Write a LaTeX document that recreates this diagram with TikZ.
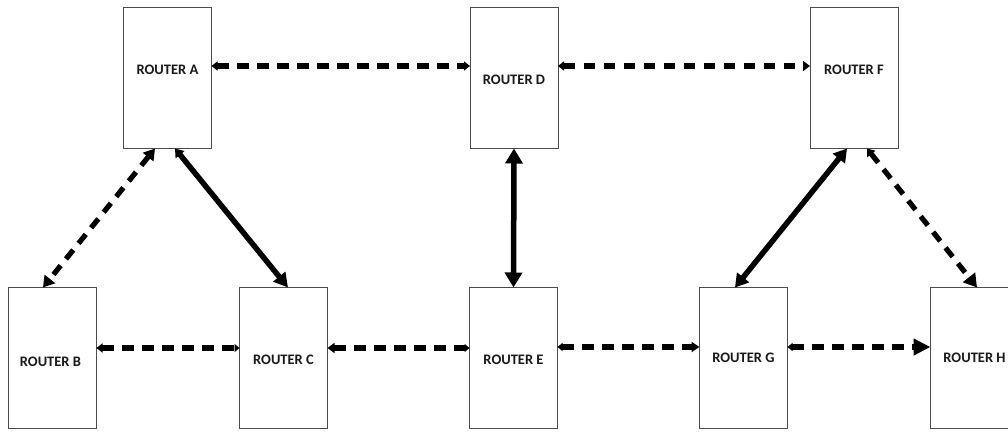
\documentclass[tikz,border=0pt]{standalone}
\usepackage{fontspec}
\setmainfont{Carlito}
\usetikzlibrary{arrows.meta}
\begin{document}
\begin{tikzpicture}[x=1pt,y=-1pt,
  router/.style={draw=black!70,line width=1pt,fill=white,minimum width=88pt,minimum height=141pt,inner sep=0pt,outer sep=0pt},
  lbl/.style={font=\fontsize{14.5}{15}\selectfont\bfseries,text=black!90,inner sep=0pt},
  dlink/.style={line width=5.2pt,dash pattern=on 11.5pt off 8.5pt},
  slink/.style={line width=5.5pt}]
\clip (0,0) rectangle (1008,431);
\fill[white] (0,0) rectangle (1008,431);
% boxes
\node[router] (A) at (167.5,78) {};
\node[router] (D) at (514,78) {};
\node[router] (F) at (854,78) {};
\node[router] (B) at (52.5,358) {};
\node[router] (C) at (283.5,358) {};
\node[router] (E) at (513.5,358) {};
\node[router] (G) at (743.5,358) {};
\node[router] (H) at (974.5,358) {};
% labels
\node[lbl] (lA) at ([yshift=8pt]A.center) {ROUTER A};
\node[lbl] (lD) at ([yshift=-2pt]D.center) {ROUTER D};
\node[lbl] (lF) at ([yshift=8pt]F.center) {ROUTER F};
\node[lbl] (lB) at ([xshift=-2pt,yshift=-4pt]B.center) {ROUTER B};
\node[lbl] (lC) at ([yshift=-2pt]C.center) {ROUTER C};
\node[lbl] (lE) at ([yshift=-2pt]E.center) {ROUTER E};
\node[lbl] (lG) at ([yshift=0pt]G.center) {ROUTER G};
\node[lbl] (lH) at ([yshift=0pt]H.center) {ROUTER H};
% top row dashed
\draw[dlink,{Triangle[length=6pt,width=9pt]}-{Triangle[length=6pt,width=9pt]}] ([yshift=12pt]A.east) -- ([yshift=12pt]D.west);
\draw[dlink,{Triangle[length=6pt,width=9pt]}-{Triangle[length=7pt,width=10pt]}] ([yshift=12pt]D.east) -- ([yshift=12pt]F.west);
% bottom row dashed
\draw[dlink,{Triangle[length=6pt,width=9pt]}-{Triangle[length=5pt,width=8pt]}] ([yshift=10pt]B.east) -- ([yshift=10pt]C.west);
\draw[dlink,{Triangle[length=7pt,width=10pt]}-{Triangle[length=5pt,width=8pt]}] ([yshift=10pt]C.east) -- ([yshift=10pt]E.west);
\draw[dlink,{Triangle[length=5pt,width=8pt]}-{Triangle[length=8pt,width=10pt]}] ([yshift=11pt]E.east) -- ([yshift=11pt]G.west);
\draw[dlink,{Triangle[length=5pt,width=8pt]}-{Triangle[length=17pt,width=16pt]}] ([yshift=11pt]G.east) -- ([yshift=11pt]H.west);
% diagonals and vertical
\draw[dlink,{Triangle[length=11pt,width=13pt]}-{Triangle[length=11pt,width=13pt]}] ([xshift=-12.5pt]A.south) -- ([xshift=-9.5pt]B.north);
\draw[slink,{Triangle[length=8pt,width=11pt]}-{Triangle[length=14pt,width=15pt]}] ([xshift=7.5pt]A.south) -- ([xshift=4.5pt]C.north);
\draw[slink,{Triangle[length=15pt,width=17pt]}-{Triangle[length=15pt,width=17pt]}] (D.south) -- (E.north);
\draw[slink,{Triangle[length=13pt,width=15pt]}-{Triangle[length=13pt,width=15pt]}] ([xshift=-7pt]F.south) -- ([xshift=-8.5pt]G.north);
\draw[dlink,{Triangle[length=7pt,width=10pt]}-{Triangle[length=13pt,width=15pt]}] ([xshift=13pt]F.south) -- ([xshift=2.5pt]H.north);
\end{tikzpicture}
\end{document}
